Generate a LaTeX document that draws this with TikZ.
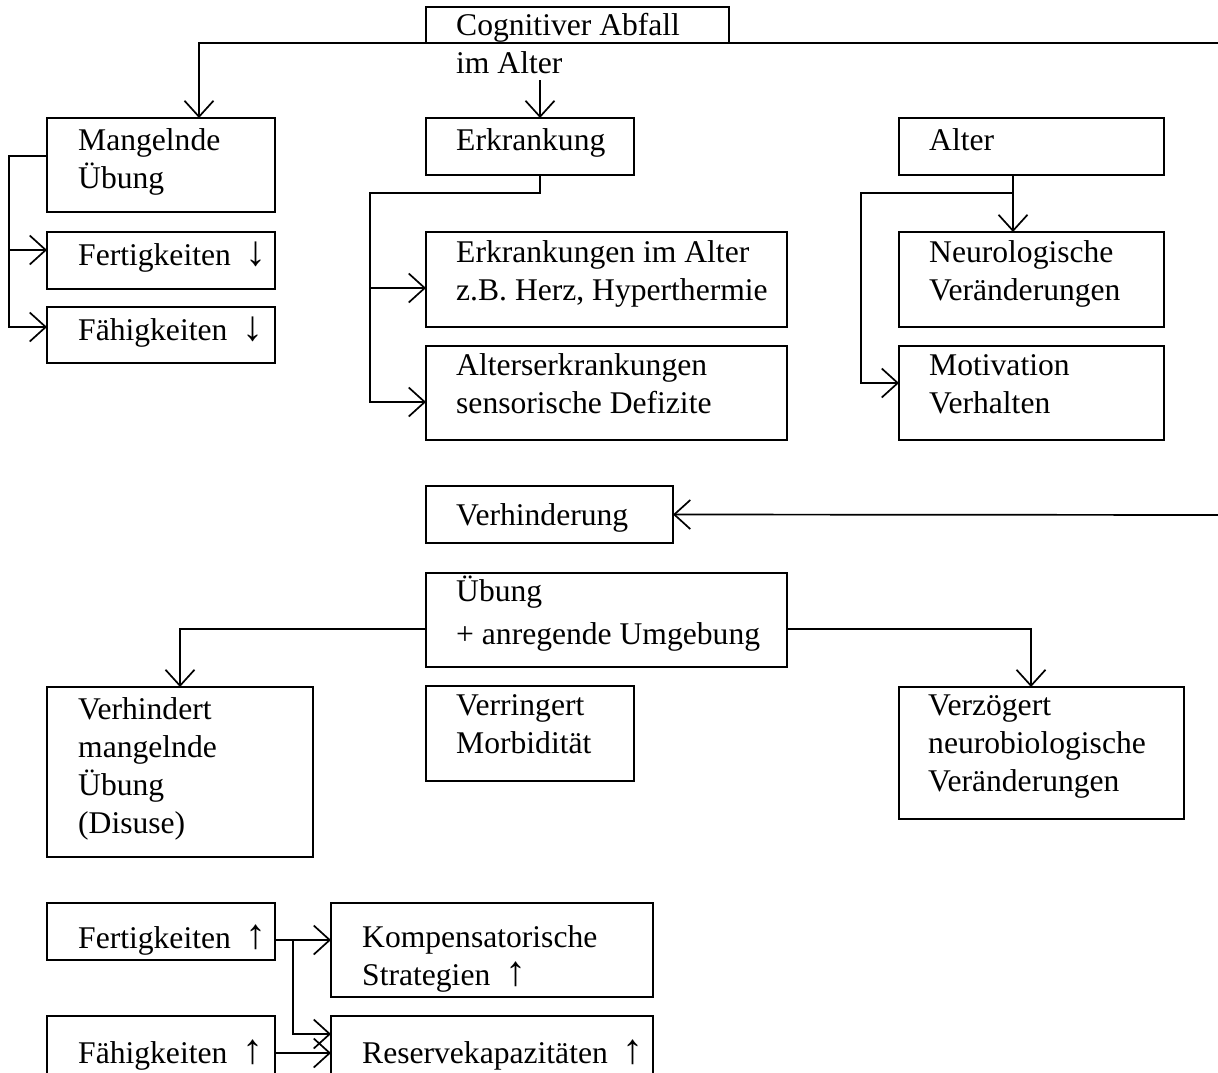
\documentclass[tikz,border=0pt]{standalone}
\usepackage{fontspec}
\setmainfont{Liberation Serif}
\usetikzlibrary{arrows.meta}
% larger trend arrows set after a word
\newcommand\trenddown{\hspace{15pt}{\fontsize{42}{38}\selectfont ↓}}
\newcommand\trendup{\hspace{15pt}{\fontsize{42}{38}\selectfont ↑}}
\begin{document}
\begin{tikzpicture}[x=1pt,y=-1pt,
  box/.style={draw, line width=1.7pt, anchor=north west, inner sep=0pt, outer sep=0pt},
  txt/.style={anchor=base west, align=left, inner sep=0pt, font=\fontsize{31.6}{38}\selectfont},
  link/.style={line width=1.7pt},
  arr/.style={link, -{Straight Barb[length=16pt,width=29pt]}}]
\useasboundingbox[fill=white] (0,0) rectangle (1218,1072);

% ---- boxes ----
\node[box, minimum width=303pt, minimum height=36pt]  (cog)    at (426,7)    {};
\node[box, minimum width=228pt, minimum height=94pt]  (mang)   at (47,118)   {};
\node[box, minimum width=228pt, minimum height=57pt]  (fert1)  at (47,232)   {};
\node[box, minimum width=228pt, minimum height=56pt]  (faeh1)  at (47,307)   {};
\node[box, minimum width=208pt, minimum height=57pt]  (erk)    at (426,118)  {};
\node[box, minimum width=361pt, minimum height=95pt]  (erk2)   at (426,232)  {};
\node[box, minimum width=361pt, minimum height=94pt]  (alterk) at (426,346)  {};
\node[box, minimum width=265pt, minimum height=57pt]  (alter)  at (899,118)  {};
\node[box, minimum width=265pt, minimum height=95pt]  (neuro)  at (899,232)  {};
\node[box, minimum width=265pt, minimum height=94pt]  (motiv)  at (899,346)  {};
\node[box, minimum width=247pt, minimum height=57pt]  (verh)   at (426,486)  {};
\node[box, minimum width=361pt, minimum height=94pt]  (ueb)    at (426,573)  {};
\node[box, minimum width=266pt, minimum height=170pt] (verhd)  at (47,687)   {};
\node[box, minimum width=208pt, minimum height=95pt]  (verr)   at (426,686)  {};
\node[box, minimum width=285pt, minimum height=132pt] (verz)   at (899,687)  {};
\node[box, minimum width=228pt, minimum height=57pt]  (fert2)  at (47,903)   {};
\node[box, minimum width=228pt, minimum height=94pt]  (faeh2)  at (47,1016)  {};
\node[box, minimum width=322pt, minimum height=94pt]  (komp)   at (331,903)  {};
\node[box, minimum width=322pt, minimum height=94pt]  (res)    at (331,1016) {};

% ---- texts (placed at the baseline of their last line) ----
\node[txt] (tcog)    at (456,73)   {Cognitiver Abfall\\im Alter};
\node[txt] (tmang)   at (78,188)   {Mangelnde\\Übung};
\node[txt] (tfert1)  at (78,265)   {Fertigkeiten\trenddown};
\node[txt] (tfaeh1)  at (78,340)   {Fähigkeiten\trenddown};
\node[txt] (terk)    at (456,150)  {Erkrankung};
\node[txt] (terk2)   at (456,300)  {Erkrankungen im Alter\\z.B. Herz, Hyperthermie};
\node[txt] (talterk) at (456,413)  {Alterserkrankungen\\sensorische Defizite};
\node[txt] (talter)  at (929,150)  {Alter};
\node[txt] (tneuro)  at (929,300)  {Neurologische\\Veränderungen};
\node[txt] (tmotiv)  at (929,413)  {Motivation\\Verhalten};
\node[txt] (tverh)   at (456,525)  {Verhinderung};
\node[txt] (tueb)    at (456,644)  {Übung\\[5pt]+ anregende Umgebung};
\node[txt] (tverhd)  at (78,833)   {Verhindert\\mangelnde\\Übung\\(Disuse)};
\node[txt] (tverr)   at (456,753)  {Verringert\\Morbidität};
\node[txt] (tverz)   at (928,791)  {Verzögert\\neurobiologische\\Veränderungen};
\node[txt] (tfert2)  at (78,948)   {Fertigkeiten\trendup};
\node[txt] (tfaeh2)  at (78,1063)  {Fähigkeiten\trendup};
\node[txt] (tkomp)   at (362,985)  {Kompensatorische\\Strategien\trendup};
\node[txt] (tres)    at (362,1063) {Reservekapazitäten\trendup};

% ---- bend points ----
\coordinate (imalt)   at (540,80);
\coordinate (erkbus)  at (370,288);
\coordinate (altbus)  at (1013,193);
\coordinate (mangbus) at (9,250);
\coordinate (fkbus)   at (293,940);

% ---- connectors ----
\draw[arr] (cog.south west) -| ([xshift=152pt]mang.north west);
\draw[arr] (cog.south east) -| (1240,515) -- (verh.east);
\draw[arr] (imalt) -- (imalt |- erk.north);

\draw[arr] ([xshift=114pt]erk.south west) |- (370,193) |- ([yshift=-9pt]alterk.west);
\draw[arr] (erkbus) -- (erkbus -| erk2.west);

\draw[arr] ([xshift=114pt]alter.south west) -- ([xshift=114pt]neuro.north west);
\draw[arr] (altbus) -| (861,383) -- (861,383 -| motiv.west);

\draw[arr] ([yshift=9pt]mang.west) -| (9,327) -- (9,327 -| faeh1.west);
\draw[arr] (mangbus) -- (mangbus -| fert1.west);

\draw[arr] ([yshift=-9pt]ueb.west) -| ([xshift=133pt]verhd.north west);
\draw[arr] ([yshift=-9pt]ueb.east) -| ([xshift=132pt]verz.north west);

\draw[arr] (fert2.east |- fkbus) -- (fkbus -| komp.west);
\draw[arr] (fkbus) |- (293,1034 -| res.west);
\draw[arr] (faeh2.east |- 0,1053) -- (res.west |- 0,1053);
\end{tikzpicture}
\end{document}
